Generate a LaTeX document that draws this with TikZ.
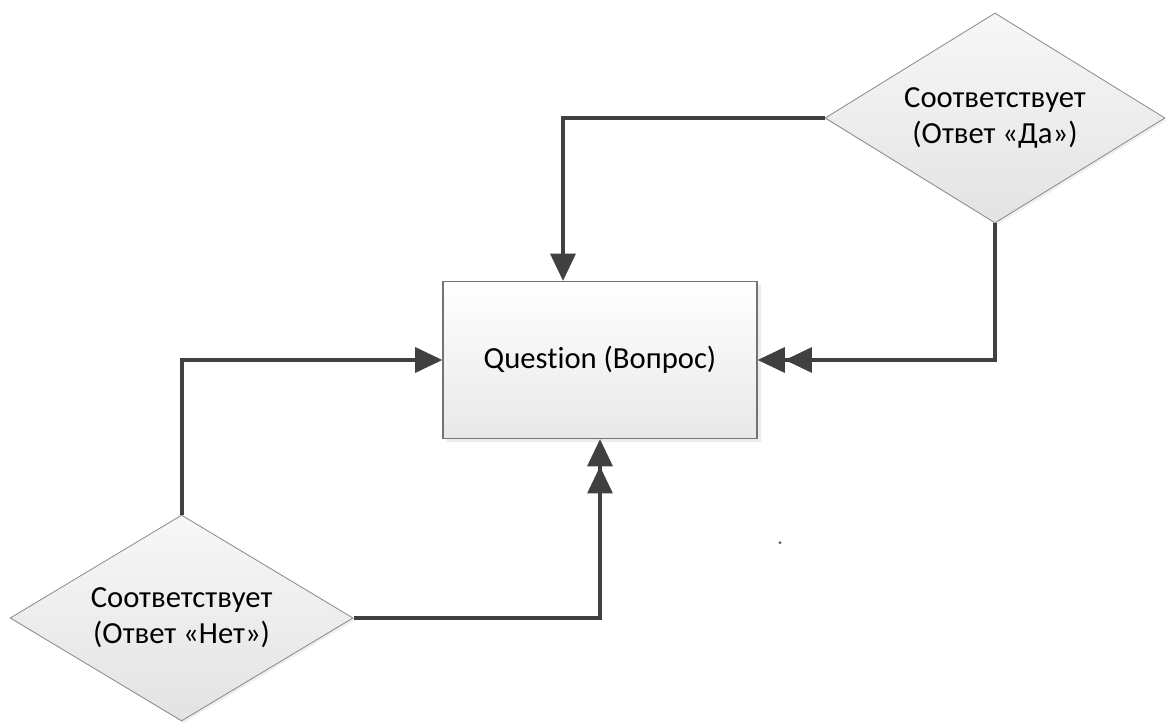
\documentclass[tikz,border=0pt]{standalone}
\usepackage{fontspec}
\setmainfont{Carlito}[Ligatures=NoCommon]
\usetikzlibrary{shapes.geometric,arrows.meta,shadows}

\tikzset{
  qbox/.style={draw=black!55, line width=0.8pt, minimum width=7.85cm, minimum height=3.925cm,
    top color=white, bottom color=black!9,
    drop shadow={shadow xshift=2.5pt, shadow yshift=-2.5pt, fill=black!15}},
  choice/.style={diamond, aspect=1.6, draw=black!45, line width=0.6pt, inner sep=0pt, align=center,
    top color=black!3, bottom color=black!11,
    drop shadow={shadow xshift=1.5pt, shadow yshift=-1.5pt, fill=black!12}},
  link/.style={draw=black!75, line width=2.7pt},
  >={Triangle[length=0.68cm,width=0.62cm]}
}

\begin{document}
\begin{tikzpicture}[font=\fontsize{21.8}{25.8}\selectfont]
    \useasboundingbox (0,0) rectangle (29.125,18.15);
    \node[qbox] (question) at (15.0,9.15) {Question (Вопрос)};
    \node[choice, minimum width=8.5cm, minimum height=5.25cm] (yes) at (24.875,15.2) {Соответствует\\(Ответ «Да»)};
    \node[choice, minimum width=8.575cm, minimum height=5.15cm] (no) at (4.54,2.7) {Соответствует\\(Ответ «Нет»)};
    \draw[link,->] (yes.west) -| ([xshift=-0.925cm]question.north);
    \draw[link,->>] (yes.south) |- (question.east);
    \draw[link,->] (no.north) |- (question.west);
    \draw[link,->>] (no.east) -| (question.south);
    \fill[black!60] (19.5,4.58) circle (1.2pt);
\end{tikzpicture}
\end{document}
